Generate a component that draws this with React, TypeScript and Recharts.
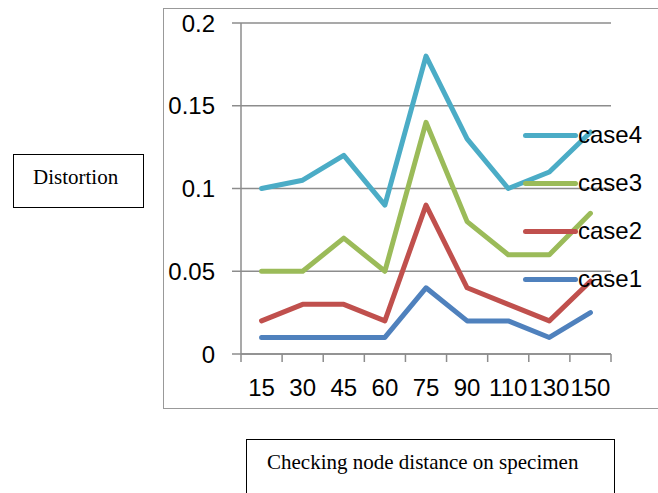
import React from 'react';
import { LineChart, Line, XAxis, YAxis, CartesianGrid, Legend } from 'recharts';

const categories = ['15', '30', '45', '60', '75', '90', '110', '130', '150'];
const case1 = [0.01, 0.01, 0.01, 0.01, 0.04, 0.02, 0.02, 0.01, 0.025];
const case2 = [0.02, 0.03, 0.03, 0.02, 0.09, 0.04, 0.03, 0.02, 0.044];
const case3 = [0.05, 0.05, 0.07, 0.05, 0.14, 0.08, 0.06, 0.06, 0.085];
const case4 = [0.1, 0.105, 0.12, 0.09, 0.18, 0.13, 0.1, 0.11, 0.134];
const yTicks = [0, 0.05, 0.1, 0.15, 0.2];

const seriesNames = ['case1', 'case2', 'case3', 'case4'];
const seriesColors = ['#4F81BD', '#C0504D', '#9BBB59', '#4BACC6'];
const seriesValues = [case1, case2, case3, case4];

const data = categories.map((c, i) => {
  const row: Record<string, string | number> = { cat: c };
  seriesNames.forEach((n, s) => {
    row[n] = seriesValues[s][i];
  });
  return row;
});

const AXIS_COLOR = '#8c8c8c';
const SANS = '"Liberation Sans", Arial, sans-serif';
const SERIF = '"Liberation Serif", "Times New Roman", serif';

const XTick = (props: any) => {
  const { x, y, payload, index, visibleTicksCount } = props;
  const off = payload.offset || 0;
  const isLast = index === visibleTicksCount - 1;
  return (
    <g>
      <line x1={x - off} x2={x - off} y1={y} y2={y + 8} stroke={AXIS_COLOR} strokeWidth={1.5} />
      {isLast && (
        <line x1={x + off} x2={x + off} y1={y} y2={y + 8} stroke={AXIS_COLOR} strokeWidth={1.5} />
      )}
      <text x={x} y={y + 42} textAnchor="middle" fill="#000" fontSize={24} fontFamily={SANS}>
        {payload.value}
      </text>
    </g>
  );
};

const LegendContent = (props: any) => {
  const items = [...(props.payload || [])].reverse();
  return (
    <div style={{ fontFamily: SANS, fontSize: 24, color: '#000' }}>
      {items.map((it: any) => (
        <div key={it.value} style={{ display: 'flex', alignItems: 'center', height: 48 }}>
          <div
            style={{
              width: 55,
              height: 5,
              borderRadius: 3,
              background: it.color,
              flex: '0 0 auto',
            }}
          />
          <span style={{ lineHeight: '24px', marginLeft: 0 }}>{it.value}</span>
        </div>
      ))}
    </div>
  );
};

export default function App() {
  return (
    <div
      style={{
        position: 'absolute',
        left: 0,
        top: 0,
        width: 658,
        height: 493,
        overflow: 'hidden',
        background: '#fff',
      }}
    >
      <div
        style={{
          position: 'absolute',
          left: 163,
          top: 8,
          width: 520,
          height: 401,
          border: '1.5px solid #999',
          boxSizing: 'border-box',
        }}
      />
      <div style={{ position: 'absolute', left: 0, top: 0 }}>
        <LineChart
          width={658}
          height={493}
          data={data}
          margin={{ top: 23, right: 47, bottom: 0, left: 0 }}
        >
          <CartesianGrid horizontal vertical={false} stroke={AXIS_COLOR} strokeWidth={1.5} />
          <XAxis
            dataKey="cat"
            scale="band"
            height={139}
            interval={0}
            tickSize={0}
            tickMargin={0}
            tickLine={false}
            axisLine={{ stroke: AXIS_COLOR, strokeWidth: 1.5 }}
            tick={<XTick />}
          />
          <YAxis
            width={241}
            domain={[0, 0.2]}
            ticks={yTicks}
            interval={0}
            tickSize={9}
            tickMargin={17}
            tickLine={{ stroke: AXIS_COLOR, strokeWidth: 1.5 }}
            axisLine={{ stroke: AXIS_COLOR, strokeWidth: 1.5 }}
            tick={{ fill: '#000', fontSize: 24, fontFamily: SANS }}
          />
          {seriesNames.map((n, s) => (
            <Line
              key={n}
              type="linear"
              dataKey={n}
              name={n}
              stroke={seriesColors[s]}
              strokeWidth={5}
              strokeLinejoin="round"
              strokeLinecap="round"
              dot={false}
              activeDot={false}
              isAnimationActive={false}
            />
          ))}
          <Legend
            layout="vertical"
            align="center"
            verticalAlign="middle"
            content={<LegendContent />}
            wrapperStyle={{ left: 523, top: 111, width: 135, height: 192 }}
          />
        </LineChart>
      </div>
      <div
        style={{
          position: 'absolute',
          left: 13,
          top: 154,
          width: 131,
          height: 54,
          border: '1.3px solid #000',
          boxSizing: 'border-box',
          fontFamily: SERIF,
          fontSize: 21,
          lineHeight: '21px',
        }}
      >
        <span style={{ position: 'absolute', left: 19, top: 12 }}>Distortion</span>
      </div>
      <div
        style={{
          position: 'absolute',
          left: 246,
          top: 439,
          width: 369,
          height: 80,
          border: '1.3px solid #000',
          boxSizing: 'border-box',
          fontFamily: SERIF,
          fontSize: 21,
          lineHeight: '21px',
        }}
      >
        <span style={{ position: 'absolute', left: 20, top: 12, whiteSpace: 'nowrap' }}>
          Checking node distance on specimen
        </span>
      </div>
    </div>
  );
}
